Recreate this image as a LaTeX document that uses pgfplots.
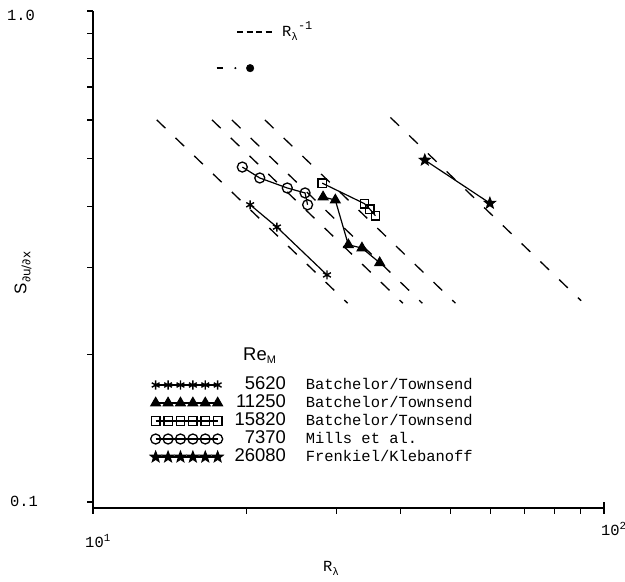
\documentclass[border=0pt]{standalone}
\usepackage{pgfplots}
\pgfplotsset{compat=1.18}
\usepackage{fontspec}
\setmainfont{Liberation Mono}
\newfontfamily\lgtt{Liberation Mono}
\newfontfamily\lgsf{Liberation Sans}
\newfontfamily\djv{DejaVu Sans}
\usetikzlibrary{plotmarks}
\pgfdeclareplotmark{fstar}{%
  \pgfpathmoveto{\pgfpointpolar{90}{\pgfplotmarksize}}%
  \pgfpathlineto{\pgfpointpolar{126}{0.42\pgfplotmarksize}}%
  \pgfpathlineto{\pgfpointpolar{162}{\pgfplotmarksize}}%
  \pgfpathlineto{\pgfpointpolar{198}{0.42\pgfplotmarksize}}%
  \pgfpathlineto{\pgfpointpolar{234}{\pgfplotmarksize}}%
  \pgfpathlineto{\pgfpointpolar{270}{0.42\pgfplotmarksize}}%
  \pgfpathlineto{\pgfpointpolar{306}{\pgfplotmarksize}}%
  \pgfpathlineto{\pgfpointpolar{342}{0.42\pgfplotmarksize}}%
  \pgfpathlineto{\pgfpointpolar{18}{\pgfplotmarksize}}%
  \pgfpathlineto{\pgfpointpolar{54}{0.42\pgfplotmarksize}}%
  \pgfpathclose
  \pgfusepathqfillstroke}
\begin{document}
\begin{tikzpicture}
\begin{axis}[
  at={(0,0)}, anchor=south west,
  scale only axis, width=511bp, height=497bp,
  xmode=log, ymode=log,
  xmin=10, xmax=100, ymin=0.0972, ymax=1.0,
  axis x line*=bottom, axis y line*=left,
  axis line style={line width=1.4bp},
  xtick={20,30,40,50,60,70,80,90},
  ytick={0.1,0.2,0.3,0.4,0.5,0.6,0.7,0.8,0.9,1.0},
  minor xtick={}, minor ytick={},
  xticklabels={}, yticklabels={},
  extra x ticks={10,100}, extra x tick labels={},
  extra x tick style={tick align=center, major tick length=12bp},
  tick align=outside, major tick length=6bp,
  tick style={line width=1.2bp, black},
  clip=false,
  legend style={draw=none, fill=none, inner sep=0pt, row sep=0pt,
    at={(rel axis cs:0.112,0.266)}, anchor=north west,
    nodes={inner sep=0pt, text height=13bp, text depth=5bp}},
  legend cell align=left,
  legend image code/.code={
    \draw[mark repeat=1,#1] plot coordinates {(0bp,0bp)(12.4bp,0bp)(24.8bp,0bp)(37.2bp,0bp)(49.6bp,0bp)(62bp,0bp)};},
]
% R_lambda^{-1} reference lines
\addplot[black, line width=1.3bp, dash pattern=on 12bp off 14bp, forget plot] coordinates {(13.33,0.600) (31.5,0.254)};
\addplot[black, line width=1.3bp, dash pattern=on 12bp off 14bp, forget plot] coordinates {(17.1,0.600) (40.4,0.254)};
\addplot[black, line width=1.3bp, dash pattern=on 12bp off 14bp, forget plot] coordinates {(18.7,0.600) (44.1,0.254)};
\addplot[black, line width=1.3bp, dash pattern=on 12bp off 14bp, forget plot] coordinates {(21.7,0.600) (51.2,0.254)};
\addplot[black, line width=1.3bp, dash pattern=on 12bp off 14bp, forget plot] coordinates {(38.2,0.607) (90.2,0.257)};
% data
\addplot[black, line width=1.2bp, mark=asterisk, mark size=4.5bp, mark options={line width=1.4bp, solid}] coordinates {(20.3,0.403) (22.9,0.363) (28.7,0.290)};
\addlegendentry{\makebox[63bp][r]{\lgsf\fontsize{18.5}{18}\selectfont 5620}\hspace{20bp}{\lgtt\fontsize{15.5}{18}\selectfont Batchelor/Townsend}}
\addplot[black, line width=1.2bp, mark=triangle*, mark size=5.5bp, mark options={fill=black, solid}] coordinates {(28.2,0.418) (29.8,0.412) (31.6,0.334) (33.6,0.329) (36.4,0.307)};
\addlegendentry{\makebox[63bp][r]{\lgsf\fontsize{18.5}{18}\selectfont 11250}\hspace{20bp}{\lgtt\fontsize{15.5}{18}\selectfont Batchelor/Townsend}}
\addplot[black, line width=1.2bp, mark=square, mark size=4.2bp, mark options={line width=1.4bp, solid, fill=white}] coordinates {(28.1,0.446) (34.0,0.405) (34.8,0.395) (35.7,0.383)};
\addlegendentry{\makebox[63bp][r]{\lgsf\fontsize{18.5}{18}\selectfont 15820}\hspace{20bp}{\lgtt\fontsize{15.5}{18}\selectfont Batchelor/Townsend}}
\addplot[black, line width=1.2bp, mark=o, mark size=5bp, mark options={line width=1.3bp, solid}] coordinates {(19.6,0.481) (21.2,0.457) (24.0,0.436) (26.0,0.426) (26.3,0.403)};
\addlegendentry{\makebox[63bp][r]{\lgsf\fontsize{18.5}{18}\selectfont 7370}\hspace{20bp}{\lgtt\fontsize{15.5}{18}\selectfont Mills et al.}}
\addplot[black, line width=1.2bp, mark=fstar, mark size=5.5bp, mark options={fill=black, solid}] coordinates {(44.6,0.497) (59.8,0.406)};
\addlegendentry{\makebox[63bp][r]{\lgsf\fontsize{18.5}{18}\selectfont 26080}\hspace{20bp}{\lgtt\fontsize{15.5}{18}\selectfont Frenkiel/Klebanoff}}
% isolated point near the top
\addplot[black, only marks, mark=*, mark size=3.8bp, forget plot] coordinates {(20.3,0.765)};
\addplot[black, line width=1.4bp, forget plot] coordinates {(17.45,0.765) (17.95,0.765)};
\addplot[black, only marks, mark=*, mark size=0.8bp, forget plot] coordinates {(19.0,0.765)};
% legend for dashed lines
\draw[black, line width=1.3bp, dash pattern=on 6bp off 3.5bp] (rel axis cs:0.282,0.958) -- (rel axis cs:0.350,0.958);
\end{axis}
% text labels
\node[font={\lgtt\fontsize{15.5}{18}\selectfont}] at (-72bp,493bp) {1.0};
\node[font={\lgtt\fontsize{15.5}{18}\selectfont}] at (-69bp,7bp) {0.1};
\node[font={\lgtt\fontsize{15.5}{18}\selectfont}] at (5bp,-33bp) {10\textsuperscript{1}};
\node[font={\lgtt\fontsize{15.5}{18}\selectfont}, anchor=west, inner sep=0pt] at (508bp,-21bp) {10\textsuperscript{2}};
\node[font={\lgtt\fontsize{15.5}{18}\selectfont}, anchor=base west, inner sep=0pt] at (230bp,-63bp) {R\raisebox{-4bp}{\fontsize{11}{11}\selectfont λ}};
\node[font={\lgtt\fontsize{15.5}{18}\selectfont}, anchor=base west, inner sep=0pt] at (189bp,471bp) {R\raisebox{-4bp}{\fontsize{11}{11}\selectfont λ}\raisebox{7bp}{\fontsize{12}{12}\selectfont -1}};
\node[rotate=90, inner sep=0pt] at (-70bp,235bp) {{\lgsf\fontsize{17}{18}\selectfont S}\raisebox{-4bp}{\djv\fontsize{12}{12}\selectfont ∂u/∂x}};
\node[anchor=base west, inner sep=0pt] at (150bp,147bp) {{\lgsf\fontsize{18.5}{18}\selectfont Re}\raisebox{-3bp}{\lgsf\fontsize{11}{11}\selectfont M}};
\pgfresetboundingbox
\path[use as bounding box] (-93bp,-74bp) rectangle (532bp,508bp);
\end{tikzpicture}
\end{document}
